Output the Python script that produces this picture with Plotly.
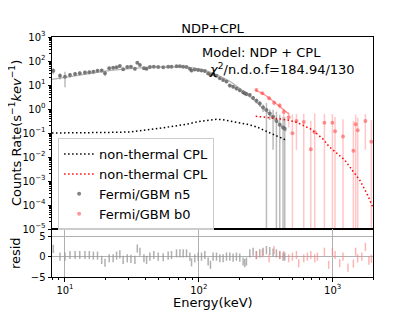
import plotly.graph_objects as go
from plotly.subplots import make_subplots

# ---------------- data ----------------
n5_energy = [8.18, 9.18, 10.0, 10.9, 11.9, 12.9, 14.1, 15.2, 16.3, 17.5,
             18.8, 19.9, 21.4, 22.9, 24.3, 25.7, 27.2, 29.2, 31.1, 33.3,
             34.7, 36.3, 38.9, 40.7, 43.1, 46.1, 49.7, 54.2, 59.0, 62.5,
             68.1, 72.2, 76.4, 80.9, 85.7, 88.2, 93.3, 98.9, 104.7, 110.9,
             117.4, 122.2, 127.9, 135.5, 143.5, 151.9, 160.9, 170.3, 180.4, 191.0,
             202.3, 214.2, 220.4, 226.8, 240.2, 254.4, 269.3, 285.2, 302.0, 319.9,
             338.8, 358.6, 379.8, 402.2, 425.9, 438.4]
n5_rate = [39, 24, 22, 26, 29, 31, 33, 34, 36, 39,
           40, 31, 50, 52, 55, 62, 45, 56, 58, 47,
           85, 68, 50, 48, 56, 58, 56, 55, 57, 58,
           60, 60, 58, 56, 48, 40, 44, 42, 40, 38,
           30, 26, 28, 24, 19, 16, 14, 9.5, 8.5, 7.2,
           6.0, 5.0, 4.5, 4.2, 3.8, 2.9, 2.2, 1.7, 1.15, 0.9,
           0.65, 0.47, 0.32, 0.22, 0.17, 0.15]
n5_err = [11, 7, 14, 6, 6, 6, 6, 6, 6, 6,
          7, 8, 7, 7, 7, 8, 7, 7, 7, 7,
          9, 8, 7, 7, 7, 7, 6, 6, 6, 6,
          6, 6, 6, 6, 6, 6, 5, 5, 5, 5,
          4, 3.5, 3.5, 3, 2.5, 2.2, 2, 1.6, 1.4, 1.2,
          1.0, 0.9, 0.8, 0.8, 0.7, 0.6, 0.5, 0.45, 0.4, 0.9,
          0.3, 0.45, 0.45, 0.35, 0.3, 0.3]
n5_resid = [1.9, 0, 0, 0.4, 0.4, 0.4, 0.4, 0.4, 0.25, 0.25,
            -0.8, -1.5, -0.4, -0.4, 0.25, 0.55, -0.8, -0.4, -0.55, -0.8,
            2.0, 1.2, -0.4, -0.8, 0, 0.4, 0, -0.15, 0.25, 0.4,
            0.8, 0.8, 0.8, 0.8, 0, -1.4, -0.4, 0, 0, 0.4,
            -1.2, -2.0, 0, 0, -0.4, -0.4, 0, 0, -0.25, 0,
            -0.25, -1.2, -1.6, -1.2, 0.8, 1.2, 0.4, 0.8, 1.2, 1.6,
            1.4, 1.0, 0.8, 0.4, 0, 0]
n5_resid_err = [1.0] * len(n5_resid)

b0_energy = [269, 298, 335, 365, 402, 431, 469, 500, 536, 557,
             608, 647, 686, 734, 769, 867, 933, 995, 1041, 1128,
             1194, 1300, 1427, 1485, 1537, 1650, 1754, 1864, 1944]
b0_rate = [6.2, 4.5, 2.8, 1.8, 1.4, 0.75, 0.45, 0.098, 0.32, -0.1,
           0.29, -0.1, 0.021, 0.107, -0.1, 0.27, -0.1, 0.27, 0.117, -0.1,
           0.071, -0.1, 0.018, 0.23, 0.13, -0.1, 0.32, -0.1, 0.043]
b0_err = [0.9, 0.7, 0.5, 0.4, 0.35, 0.3, 0.28, 0.5, 0.3, 0.16,
          0.35, 0.3, 0.3, 0.55, 0.37, 0.35, 0.33, 0.35, 0.35, 0.28,
          0.3, 0.3, 0.3, 0.35, 0.3, 0.3, 0.3, 0.15, 0.3]
b0_resid = [0.4, 0.8, -0.4, 1.6, 0.4, 0.4, -0.4, 0.0, 0.4, -1.6,
            -0.4, 0.0, 0.4, -0.4, 0.0, 1.2, -2.0, 1.2, 0.4, -1.6,
            0.0, -2.7, -1.7, 1.2, -0.4, 0.0, 2.4, -1.0, -0.5]
b0_resid_err = [1.0] * len(b0_resid)

n5_model_energy = [8, 10, 12, 15, 20, 25, 30, 40, 50, 60, 70, 80, 90, 100,
                   115, 130, 150, 175, 200, 230, 260, 300, 350, 400, 450]
n5_model_rate = [17, 21, 25, 31, 38, 44, 49, 54, 57, 58, 58, 56, 52, 47,
                 38, 30, 21, 13, 7.5, 4.0, 2.3, 1.1, 0.5, 0.24, 0.12]

n5_cpl_energy = [8, 10, 15, 20, 30, 40, 50, 60, 80, 100, 120, 135, 150,
                 170, 200, 230, 270, 300, 340, 380, 420, 450]
n5_cpl_rate = [0.10, 0.10, 0.10, 0.105, 0.11, 0.13, 0.155, 0.18, 0.23, 0.30,
               0.35, 0.37, 0.36, 0.32, 0.28, 0.23, 0.18, 0.14, 0.10, 0.078,
               0.06, 0.05]

b0_model_energy = [266, 300, 335, 365, 400, 430, 470]
b0_model_rate = [6.0, 4.4, 2.9, 2.0, 1.35, 0.95, 0.62]

b0_cpl_energy = [266, 300, 350, 400, 470, 536, 600, 680, 750, 850, 940,
                 1050, 1230, 1400, 1590, 1800, 2000]
b0_cpl_rate = [0.5, 0.47, 0.43, 0.39, 0.34, 0.28, 0.21, 0.15, 0.10, 0.055,
               0.027, 0.016, 0.0075, 0.0028, 0.0011, 0.0003, 0.00008]

y_tick_vals = [1e-5, 1e-4, 1e-3, 1e-2, 1e-1, 1e0, 1e1, 1e2, 1e3]
y_tick_text = ["10<sup>−5</sup>", "10<sup>−4</sup>", "10<sup>−3</sup>",
               "10<sup>−2</sup>", "10<sup>−1</sup>", "10<sup>0</sup>",
               "10<sup>1</sup>", "10<sup>2</sup>", "10<sup>3</sup>"]
x_tick_vals = [10, 100, 1000]
x_tick_text = ["10<sup>1</sup>", "10<sup>2</sup>", "10<sup>3</sup>"]
resid_tick_vals = [-5, 0, 5]
resid_tick_text = ["−5", "0", "5"]

# minor tick positions (2..9 x decade)
x_minor = [m * 10 ** k for k in range(0, 4) for m in range(2, 10)]
y_minor = [m * 10.0 ** k for k in range(-5, 3) for m in range(2, 10)]

FONT = "DejaVu Sans"
GRAY_M = "rgba(90,90,90,0.75)"
GRAY_E = "rgba(150,150,150,0.65)"
RED_M = "rgba(255,80,80,0.6)"
RED_E = "rgba(255,130,130,0.45)"
DOTS = "1.5px,2.5px"

W, H = 407, 303  # page body adds an 8px offset

fig = make_subplots(rows=2, cols=1, shared_xaxes=True, vertical_spacing=0,
                    row_heights=[0.8, 0.2])

# data
fig.add_trace(go.Scatter(x=n5_energy, y=n5_rate, mode="markers",
                         name="Fermi/GBM n5", legendrank=3,
                         marker=dict(color=GRAY_M, size=4),
                         error_y=dict(type="data", array=n5_err, color=GRAY_E,
                                      thickness=1.5, width=0)), row=1, col=1)
fig.add_trace(go.Scatter(x=b0_energy, y=b0_rate, mode="markers",
                         name="Fermi/GBM b0", legendrank=4,
                         marker=dict(color=RED_M, size=4),
                         error_y=dict(type="data", array=b0_err, color=RED_E,
                                      thickness=1.5, width=0)), row=1, col=1)
# models
fig.add_trace(go.Scatter(x=n5_model_energy, y=n5_model_rate, mode="lines",
                         showlegend=False,
                         line=dict(color="rgba(128,128,128,0.6)", width=1.2)),
              row=1, col=1)
fig.add_trace(go.Scatter(x=b0_model_energy, y=b0_model_rate, mode="lines",
                         showlegend=False,
                         line=dict(color="rgba(255,60,60,0.6)", width=1.2)),
              row=1, col=1)
fig.add_trace(go.Scatter(x=n5_cpl_energy, y=n5_cpl_rate, mode="lines",
                         name="non-thermal CPL", legendrank=1,
                         line=dict(color="black", width=1.5, dash=DOTS)),
              row=1, col=1)
fig.add_trace(go.Scatter(x=b0_cpl_energy, y=b0_cpl_rate, mode="lines",
                         name="non-thermal CPL", legendrank=2,
                         line=dict(color="red", width=1.5, dash=DOTS)),
              row=1, col=1)
# residuals
fig.add_trace(go.Scatter(x=n5_energy, y=n5_resid, mode="markers", showlegend=False,
                         marker=dict(color="rgba(0,0,0,0)", size=1),
                         error_y=dict(type="data", array=n5_resid_err,
                                      color="rgba(150,150,150,0.75)",
                                      thickness=1.5, width=0)), row=2, col=1)
fig.add_trace(go.Scatter(x=b0_energy, y=b0_resid, mode="markers", showlegend=False,
                         marker=dict(color="rgba(0,0,0,0)", size=1),
                         error_y=dict(type="data", array=b0_resid_err,
                                      color="rgba(255,130,130,0.6)",
                                      thickness=1.5, width=0)), row=2, col=1)

xr = [0.90309, 3.30103]
axis_common = dict(showline=True, linecolor="black", linewidth=1, mirror=True,
                   tickfont=dict(family=FONT, size=10, color="black"),
                   ticks="outside", ticklen=3.5, tickcolor="black", tickwidth=0.8,
                   zeroline=False)

fig.update_xaxes(type="log", range=xr, showgrid=False, showticklabels=False,
                 ticks="", showline=True, linecolor="black", linewidth=1,
                 mirror=True, row=1, col=1)
fig.update_xaxes(type="log", range=xr, tickmode="array", tickvals=x_tick_vals,
                 ticktext=x_tick_text, showgrid=True, gridcolor="#b0b0b0",
                 gridwidth=0.8,
                 minor=dict(tickvals=x_minor, ticks="outside", ticklen=2,
                            tickcolor="black", tickwidth=0.6, showgrid=False),
                 row=2, col=1, **axis_common)
fig.update_yaxes(type="log", range=[-5, 3], tickmode="array",
                 tickvals=y_tick_vals, ticktext=y_tick_text, showgrid=False,
                 minor=dict(tickvals=y_minor, ticks="outside", ticklen=2,
                            tickcolor="black", tickwidth=0.6, showgrid=False),
                 row=1, col=1, **axis_common)
fig.update_yaxes(range=[-5, 6.8], tickmode="array", tickvals=resid_tick_vals,
                 ticktext=resid_tick_text, showgrid=True, gridcolor="#b0b0b0",
                 gridwidth=0.8, row=2, col=1, **axis_common)

fig.update_layout(
    width=W, height=H,
    margin=dict(l=44, r=42, t=29, b=34),
    paper_bgcolor="white", plot_bgcolor="white",
    font=dict(family=FONT, size=13, color="black"),
    title=dict(text="NDP+CPL", x=0.5, xref="paper", xanchor="center",
               y=1 - 20 / H, yanchor="middle",
               font=dict(family=FONT, size=13, color="black")),
    showlegend=True,
    legend=dict(x=0.019, y=0.579, xanchor="left", yanchor="top",
                bgcolor="rgba(255,255,255,0.8)", bordercolor="#cccccc",
                borderwidth=1, font=dict(family=FONT, size=13, color="black"),
                tracegroupgap=0),
    annotations=[
        dict(text="Model: NDP + CPL", x=0.461, y=0.9346, xref="paper",
             yref="paper", xanchor="left", yanchor="middle", showarrow=False,
             font=dict(family=FONT, size=13, color="black")),
        dict(text="<i>χ</i><sup>2</sup>/n.d.o.f=184.94/130", x=0.482, y=0.867,
             xref="paper", yref="paper", xanchor="left", yanchor="middle",
             showarrow=False, font=dict(family=FONT, size=13, color="black")),
        dict(text="Counts Rate(s<sup>−1</sup><i>kev</i><sup>−1</sup>)",
             x=-0.115, y=0.6, xref="paper", yref="paper", xanchor="center",
             yanchor="middle", textangle=-90, showarrow=False,
             font=dict(family=FONT, size=13, color="black")),
        dict(text="resid", x=-0.115, y=0.1, xref="paper", yref="paper",
             xanchor="center", yanchor="middle", textangle=-90, showarrow=False,
             font=dict(family=FONT, size=13, color="black")),
        dict(text="Energy(keV)", x=0.5, y=-0.106, xref="paper", yref="paper",
             xanchor="center", yanchor="middle", showarrow=False,
             font=dict(family=FONT, size=13, color="black")),
    ],
)

fig.write_html("out.html")
